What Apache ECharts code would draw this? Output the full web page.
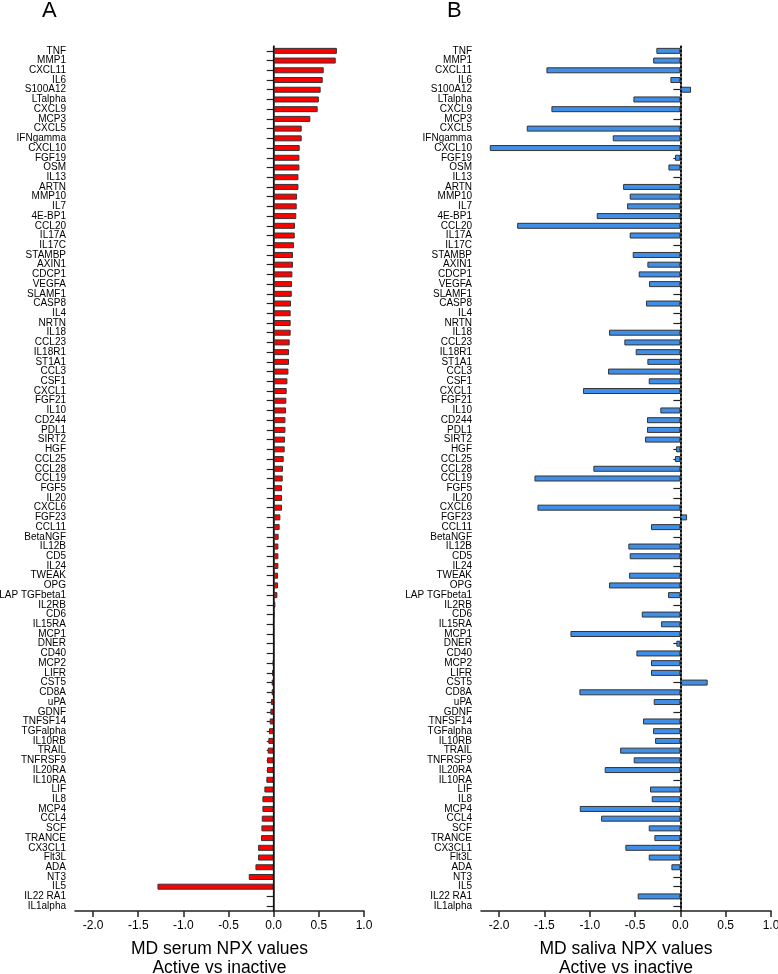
<!DOCTYPE html>
<html>
<head>
<meta charset="utf-8">
<script src="https://cdn.jsdelivr.net/npm/echarts@6/dist/echarts.min.js"></script>
<style>
	html, body { margin: 0; padding: 0; background: #fff; }
	#chart { width: 778px; height: 974px; }
</style>
</head>
<body>
<div id="chart"></div>
<script>
// protein names, top to bottom
var categories = ['TNF', 'MMP1', 'CXCL11', 'IL6', 'S100A12', 'LTalpha', 'CXCL9', 'MCP3', 'CXCL5', 'IFNgamma',
	'CXCL10', 'FGF19', 'OSM', 'IL13', 'ARTN', 'MMP10', 'IL7', '4E-BP1', 'CCL20', 'IL17A',
	'IL17C', 'STAMBP', 'AXIN1', 'CDCP1', 'VEGFA', 'SLAMF1', 'CASP8', 'IL4', 'NRTN', 'IL18',
	'CCL23', 'IL18R1', 'ST1A1', 'CCL3', 'CSF1', 'CXCL1', 'FGF21', 'IL10', 'CD244', 'PDL1',
	'SIRT2', 'HGF', 'CCL25', 'CCL28', 'CCL19', 'FGF5', 'IL20', 'CXCL6', 'FGF23', 'CCL11',
	'BetaNGF', 'IL12B', 'CD5', 'IL24', 'TWEAK', 'OPG', 'LAP TGFbeta1', 'IL2RB', 'CD6', 'IL15RA',
	'MCP1', 'DNER', 'CD40', 'MCP2', 'LIFR', 'CST5', 'CD8A', 'uPA', 'GDNF', 'TNFSF14',
	'TGFalpha', 'IL10RB', 'TRAIL', 'TNFRSF9', 'IL20RA', 'IL10RA', 'LIF', 'IL8', 'MCP4', 'CCL4',
	'SCF', 'TRANCE', 'CX3CL1', 'Flt3L', 'ADA', 'NT3', 'IL5', 'IL22 RA1', 'IL1alpha'];

// A: MD serum NPX values, active vs inactive
var serumValues = [0.70, 0.687, 0.554, 0.543, 0.52, 0.50, 0.487, 0.406, 0.31, 0.31,
	0.288, 0.285, 0.285, 0.274, 0.274, 0.259, 0.255, 0.25, 0.236, 0.233,
	0.225, 0.214, 0.214, 0.207, 0.203, 0.20, 0.192, 0.188, 0.188, 0.188,
	0.177, 0.17, 0.17, 0.163, 0.152, 0.144, 0.14, 0.137, 0.13, 0.13,
	0.126, 0.122, 0.111, 0.103, 0.10, 0.092, 0.092, 0.092, 0.074, 0.066,
	0.055, 0.052, 0.052, 0.052, 0.048, 0.048, 0.041, 0.019, 0.004, -0.005,
	-0.005, -0.002, -0.002, -0.01, -0.018, -0.022, -0.022, -0.03, -0.037, -0.044,
	-0.052, -0.059, -0.066, -0.074, -0.074, -0.081, -0.103, -0.125, -0.125, -0.132,
	-0.136, -0.14, -0.173, -0.173, -0.202, -0.276, -1.287, null, null];

// B: MD saliva NPX values, active vs inactive (null = no bar)
var salivaValues = [-0.265, -0.30, -1.478, -0.11, 0.118, -0.518, -1.423, null, -1.695, -0.746,
	-2.103, -0.059, -0.132, null, -0.632, -0.559, -0.588, -0.923, -1.801, -0.559,
	null, -0.526, -0.364, -0.46, -0.346, null, -0.379, null, null, -0.787,
	-0.618, -0.493, -0.364, -0.798, -0.349, -1.074, null, -0.221, -0.368, -0.368,
	-0.39, -0.048, -0.059, -0.96, -1.61, null, null, -1.577, 0.074, -0.324,
	null, -0.574, -0.559, null, -0.566, -0.787, -0.136, null, -0.426, -0.213,
	-1.213, -0.044, -0.485, -0.324, -0.324, 0.301, -1.114, -0.294, null, -0.412,
	-0.301, -0.279, -0.665, -0.515, -0.835, null, -0.335, -0.316, -1.11, -0.875,
	-0.349, -0.287, -0.607, -0.349, -0.099, null, null, -0.471, 0.015];

var xTickValues = [-2.0, -1.5, -1.0, -0.5, 0.0, 0.5, 1.0];
var xTitles = ['MD serum NPX values\nActive vs inactive', 'MD saliva NPX values\nActive vs inactive'];
var panelLabels = ['A', 'B'];

var FONT = '"Liberation Sans", Arial, sans-serif';
var chart = echarts.init(document.getElementById('chart'));

function makeXAxis(idx) {
	return {
		type: 'value',
		gridIndex: idx,
		min: -2.2,
		max: 1.0,
		name: xTitles[idx],
		nameLocation: 'middle',
		nameGap: 29,
		nameTextStyle: { fontFamily: FONT, fontSize: 17.5, lineHeight: 19, color: '#000' },
		axisLine: { show: true, onZero: false, lineStyle: { color: '#222', width: 1.5 } },
		axisTick: { show: true, length: 6, customValues: xTickValues, lineStyle: { color: '#222', width: 1.5 } },
		axisLabel: {
			customValues: xTickValues,
			margin: 9,
			fontFamily: FONT,
			fontSize: 12,
			color: '#000',
			formatter: function(v) { return v.toFixed(1); }
		},
		splitLine: { show: false }
	};
}

function makeYAxis(idx) {
	return {
		type: 'category',
		gridIndex: idx,
		data: categories,
		inverse: true,
		axisLine: { show: true, lineStyle: { color: '#222', width: 1.5 } },
		axisTick: { show: true, length: 7, alignWithLabel: true, lineStyle: { color: '#222', width: 1.2 } },
		axisLabel: { interval: 0, margin: 9, fontFamily: FONT, fontSize: 10, color: '#000' },
		splitLine: { show: false }
	};
}

function makeSeries(idx, values, color, zeroType) {
	return {
		type: 'bar',
		xAxisIndex: idx,
		yAxisIndex: idx,
		data: values,
		barWidth: 6,
		itemStyle: { color: color, borderColor: '#333', borderWidth: 1 },
		silent: true,
		markLine: {
			silent: true,
			symbol: 'none',
			label: { show: false },
			lineStyle: { color: '#111', width: zeroType === 'solid' ? 1.2 : 2, type: zeroType },
			data: [{ xAxis: 0 }]
		}
	};
}

chart.setOption({
	animation: false,
	backgroundColor: '#fff',
	textStyle: { fontFamily: FONT },
	graphic: [
		{ type: 'text', left: 42, top: 0, style: { text: panelLabels[0], font: '22px ' + FONT, fill: '#000' } },
		{ type: 'text', left: 447, top: 0, style: { text: panelLabels[1], font: '22px ' + FONT, fill: '#000' } }
	],
	grid: [
		{ left: 75, width: 289, top: 46, height: 865, containLabel: false, outerBoundsMode: 'none' },
		{ left: 481, width: 290, top: 46, height: 865, containLabel: false, outerBoundsMode: 'none' }
	],
	xAxis: [makeXAxis(0), makeXAxis(1)],
	yAxis: [makeYAxis(0), makeYAxis(1)],
	series: [
		makeSeries(0, serumValues, '#ff0000', 'solid'),
		makeSeries(1, salivaValues, '#3f8fe8', 'dotted')
	]
});
</script>
</body>
</html>
